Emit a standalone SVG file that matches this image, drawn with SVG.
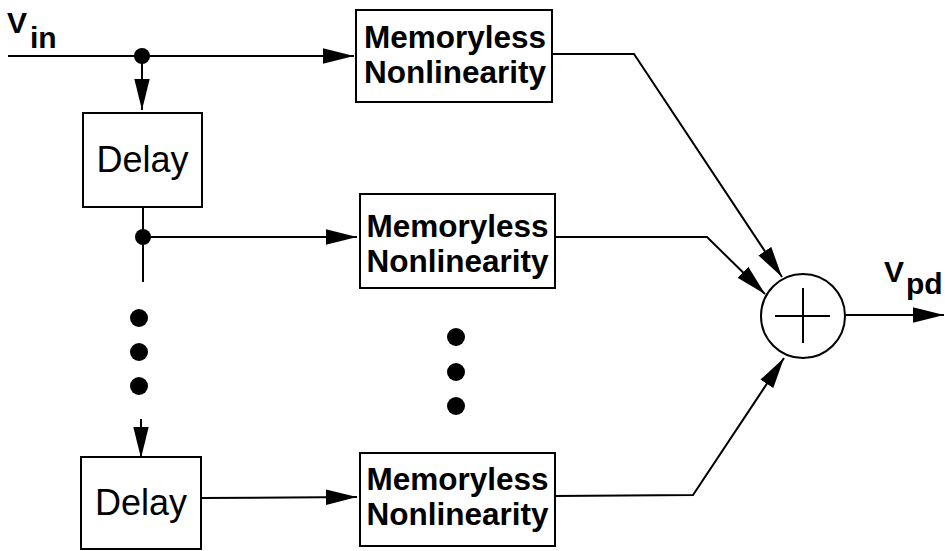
<svg xmlns="http://www.w3.org/2000/svg" width="945" height="551" viewBox="0 0 945 551">
<style>
.box{fill:#fff;stroke:#000;stroke-width:2}
.ln{fill:none;stroke:#000;stroke-width:2}
.arr{marker-end:url(#ah)}
.dl{font-family:"Liberation Sans",Arial,sans-serif;font-size:36px;text-anchor:middle}
.mn{font-family:"Liberation Sans",Arial,sans-serif;font-weight:bold;font-size:31.5px;text-anchor:middle}
.lb{font-family:"Liberation Sans",Arial,sans-serif;font-weight:bold;font-size:30px}
.dot{fill:#000}
</style>
<defs>
<marker id="ah" markerUnits="userSpaceOnUse" markerWidth="31" markerHeight="16" refX="31" refY="8" orient="auto" viewBox="0 0 31 16">
<path d="M0,0.3 L31,8 L0,15.7 z" fill="#000"/>
</marker>
</defs>
<g id="connectors">
<line class="ln arr" x1="8" y1="56" x2="354" y2="56"/>
<line class="ln arr" x1="142" y1="56" x2="142" y2="110"/>
<polyline class="ln" points="143,207 143,282"/>
<line class="ln arr" x1="143" y1="237" x2="357" y2="237"/>
<line class="ln arr" x1="141" y1="419" x2="141" y2="458"/>
<line class="ln arr" x1="201" y1="498" x2="357" y2="497"/>
<polyline class="ln arr" points="552,54 634,54 782,277"/>
<polyline class="ln arr" points="555,237 707,237 765,294"/>
<polyline class="ln arr" points="555,496 693,495 784,358"/>
<line class="ln arr" x1="845" y1="315" x2="944" y2="315"/>
</g>
<g id="label-vin">
<text class="lb" x="7" y="33">V</text><text class="lb" x="30" y="48">in</text>
</g>
<g id="label-vpd">
<text class="lb" x="884" y="282">V</text><text class="lb" x="906" y="294">pd</text>
</g>
<g id="dots-left">
<circle class="dot" cx="142" cy="56" r="8"/>
<circle class="dot" cx="143" cy="237" r="8"/>
<circle class="dot" cx="139" cy="318" r="9"/>
<circle class="dot" cx="139" cy="352" r="9"/>
<circle class="dot" cx="139" cy="386" r="9"/>
</g>
<g id="dots-middle">
<circle class="dot" cx="456" cy="337" r="9"/>
<circle class="dot" cx="456" cy="372" r="9"/>
<circle class="dot" cx="456" cy="406" r="9"/>
</g>
<g id="delay1">
<rect class="box" x="83" y="113" width="119" height="94"/>
<text class="dl" x="142.5" y="172">Delay</text>
</g>
<g id="delay2">
<rect class="box" x="81" y="457" width="120" height="92"/>
<text class="dl" x="141" y="515">Delay</text>
</g>
<g id="mnl1">
<rect class="box" x="356" y="10" width="196" height="92"/>
<text class="mn" x="455" y="48">Memoryless</text>
<text class="mn" x="455" y="83">Nonlinearity</text>
</g>
<g id="mnl2">
<rect class="box" x="360" y="194" width="195" height="94"/>
<text class="mn" x="457.5" y="237">Memoryless</text>
<text class="mn" x="457.5" y="272">Nonlinearity</text>
</g>
<g id="mnl3">
<rect class="box" x="360" y="453" width="195" height="93"/>
<text class="mn" x="457.5" y="490">Memoryless</text>
<text class="mn" x="457.5" y="525">Nonlinearity</text>
</g>
<g id="sum">
<circle class="box" cx="803" cy="316" r="42"/>
<line class="ln" x1="775" y1="316" x2="830" y2="316"/>
<line class="ln" x1="803" y1="288" x2="803" y2="343"/>
</g>
</svg>
